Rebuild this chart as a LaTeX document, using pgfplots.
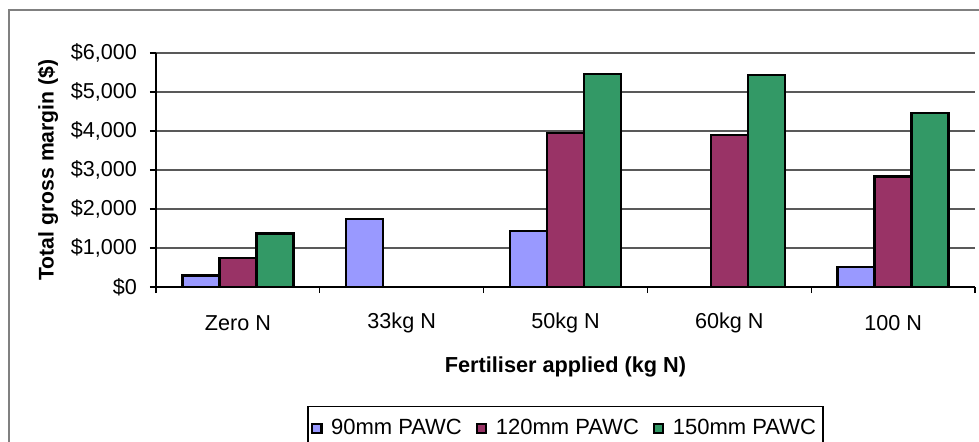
\documentclass[border=0pt]{standalone}
\usepackage{fontspec}
\setmainfont{Liberation Sans}
\usepackage{pgfplots}
\pgfplotsset{compat=1.18}

\definecolor{pawcA}{HTML}{9999FF}
\definecolor{pawcB}{HTML}{993366}
\definecolor{pawcC}{HTML}{339966}

\begin{document}
\begin{tikzpicture}
\begin{axis}[
    scale only axis,
    width=409.5pt, height=117pt,
    xmin=-0.5, xmax=4.5,
    ymin=0, ymax=6000,
    axis x line=bottom, axis y line=left,
    axis line style={-, black, line width=0.6pt},
    tick align=outside,
    major tick length=3pt, minor tick length=3pt,
    ybar=0pt, bar width=18.5pt,
    xtick={0,...,4},
    xticklabels={Zero N,33kg N,50kg N,60kg N,100 N},
    minor xtick={-0.5,0.5,...,4.5},
    major x tick style={draw=none},
    minor x tick style={black, line width=0.6pt},
    ytick={0,1000,...,6000},
    yticklabels={\$0,{\$1,000},{\$2,000},{\$3,000},{\$4,000},{\$5,000},{\$6,000}},
    y tick style={black, line width=0.6pt},
    ymajorgrids,
    grid style={black!65, line width=0.6pt},
    x tick label style={font=\fontsize{10.8}{12}\selectfont, anchor=center, yshift=-15pt},
    y tick label style={font=\fontsize{10.8}{12}\selectfont, xshift=-3pt},
    xlabel={\textbf{Fertiliser applied (kg N)}},
    ylabel={\textbf{Total gross margin (\$)}},
    every axis x label/.style={at={(axis description cs:0.5,0)}, anchor=center, yshift=-40pt, font=\fontsize{10.85}{12}\selectfont},
    every axis y label/.style={at={(axis description cs:0,0.5)}, xshift=-54pt, rotate=90, anchor=center, font=\fontsize{10.6}{12}\selectfont},
    legend columns=3,
    legend style={at={(rel axis cs:0.5,0)}, yshift=-59.5pt, anchor=north,
        draw=black, line width=0.6pt,
        inner xsep=1.5pt, inner ysep=4.5pt,
        font=\fontsize{11}{12}\selectfont,
        /tikz/every odd column/.append style={column sep=2.2pt},
        /tikz/every even column/.append style={column sep=5pt}},
    legend image code/.code={\draw[#1, draw=black, line width=1.2pt] (0pt,-2.1pt) rectangle (4.6pt,2.5pt);},
]
\addplot[fill=pawcA, draw=black, line width=1.25pt] coordinates {
    (0,300) (1,1740) (2,1430) (4,510)
};
\addplot[fill=pawcB, draw=black, line width=1.25pt] coordinates {
    (0,750) (2,3945) (3,3900) (4,2830)
};
\addplot[fill=pawcC, draw=black, line width=1.25pt] coordinates {
    (0,1375) (2,5460) (3,5435) (4,4465)
};
\legend{90mm PAWC,120mm PAWC,150mm PAWC}
\end{axis}
\draw[black!50, line width=1pt] (-73.5pt,-90pt) -- (-73.5pt,138.5pt) -- (420pt,138.5pt);
\pgfresetboundingbox
\path[use as bounding box] (-78pt,-77pt) rectangle (411.5pt,143.5pt);
\end{tikzpicture}
\end{document}
